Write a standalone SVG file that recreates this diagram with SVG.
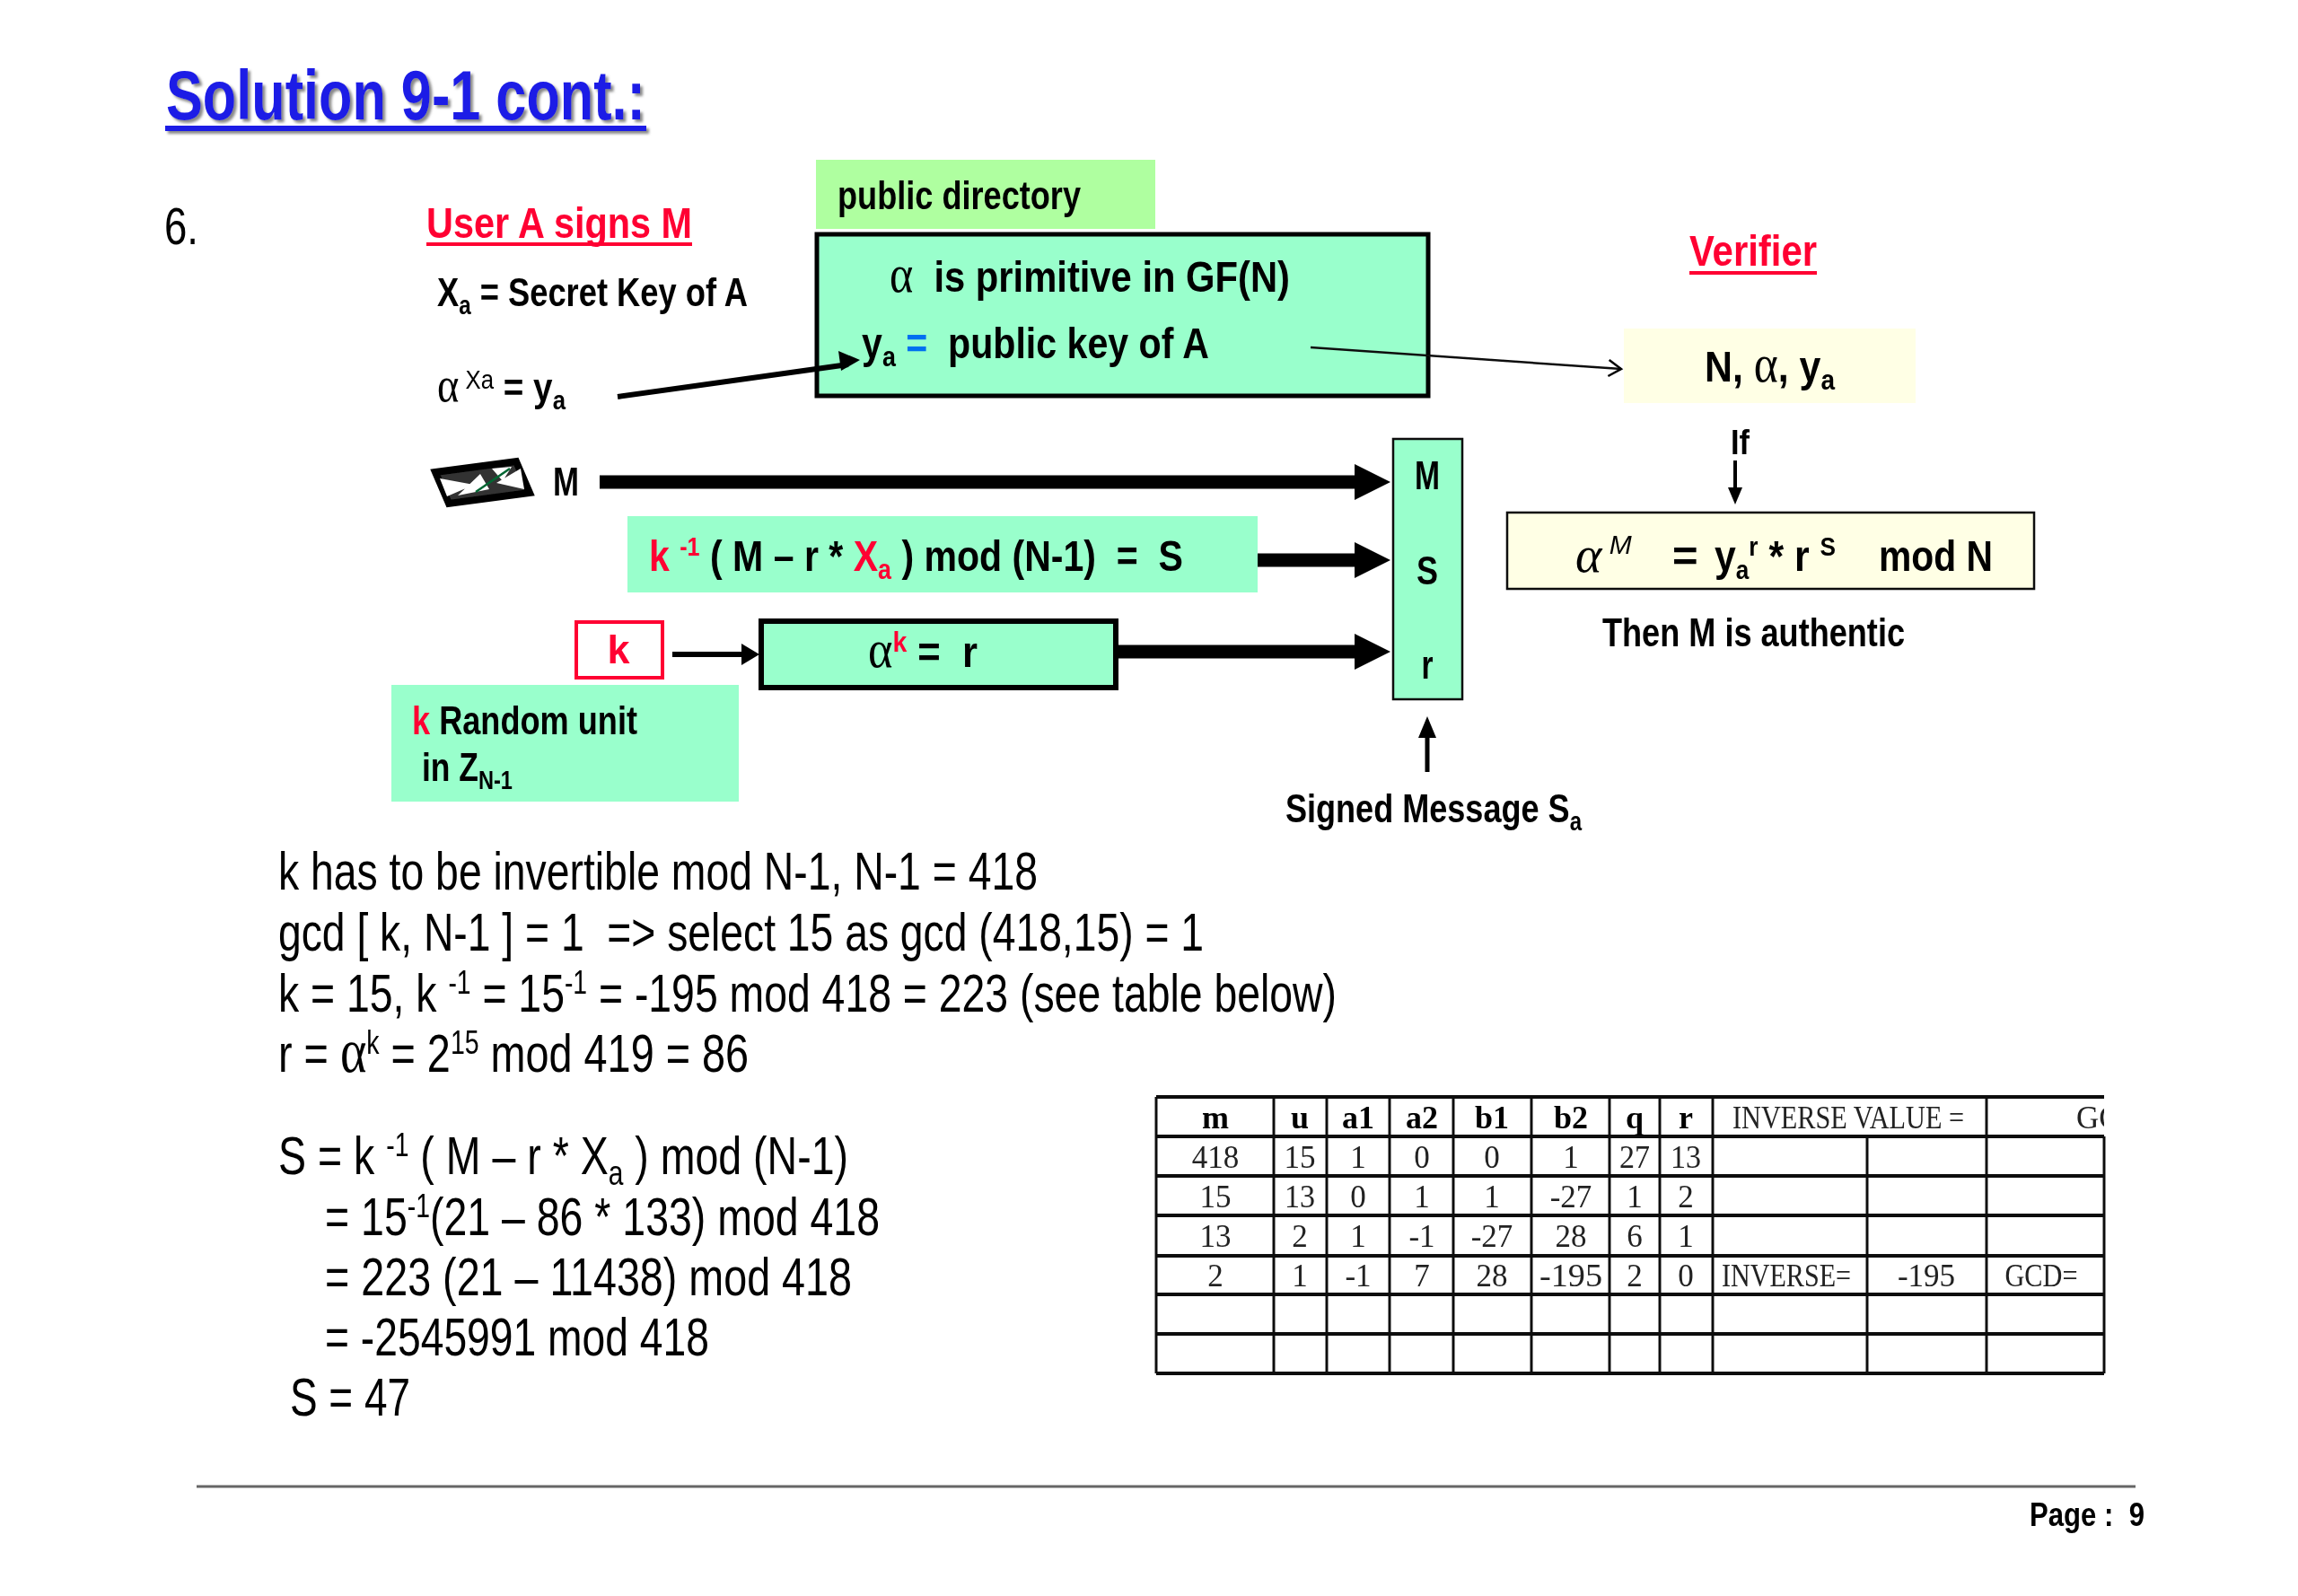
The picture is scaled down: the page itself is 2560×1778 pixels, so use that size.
<svg xmlns="http://www.w3.org/2000/svg" width="2560" height="1778" viewBox="0 0 2560 1778">
<style>
text{font-family:"Liberation Sans",Arial,sans-serif;fill:#000;white-space:pre}
.b{font-weight:bold}
.r{fill:#f03}
.l{font-size:59px}
.h{font-size:49px;font-weight:bold}
.m{font-size:45px;font-weight:bold}
.a{font-family:"Liberation Serif","Times New Roman",serif;font-weight:normal;font-size:1.2em}
.t{font-family:"Liberation Serif","Times New Roman",serif;font-size:35px;text-anchor:middle;fill:#222}
.th{font-weight:bold;fill:#000;font-size:36px}
.gr{fill:#9fc}
.c{fill:#ffffe5}
.rows{stroke:#111;stroke-width:4;fill:none}
.cols{stroke:#111;stroke-width:3;fill:none}
.thick{stroke:#000;stroke-width:15;fill:none}
.ah{fill:#000}
</style>
<defs>
<filter id="shadow" x="-5%" y="-20%" width="110%" height="140%"><feDropShadow dx="3" dy="3" stdDeviation="1.5" flood-color="#888"/></filter>
<filter id="soft" x="0" y="0" width="100%" height="100%"><feGaussianBlur stdDeviation="0.7"/></filter>
<clipPath id="tclip"><rect x="1280" y="1215" width="1064" height="320"/></clipPath>
<marker id="open" markerWidth="24" markerHeight="24" refX="20" refY="10" orient="auto" markerUnits="userSpaceOnUse"><path d="M6 1L20 10L6 19" fill="none" stroke="#000" stroke-width="2.5"/></marker>
</defs>
<rect width="2560" height="1778" fill="#fff"/>
<g filter="url(#soft)">
<g id="title" filter="url(#shadow)">
<text x="185" y="133" font-size="78" font-weight="bold" style="fill:#1a1ae6" textLength="534" lengthAdjust="spacingAndGlyphs">Solution 9-1 cont.:</text>
<rect x="184" y="140" width="536" height="6" fill="#1a1ae6"/>
</g>
<text id="num" x="183" y="272" font-size="58" textLength="38" lengthAdjust="spacingAndGlyphs">6.</text>
<g id="signer-head">
<text class="h r" x="475" y="265" textLength="296" lengthAdjust="spacingAndGlyphs">User A signs M</text>
<rect x="475" y="270" width="296" height="4" fill="#f03"/>
</g>
<text id="secret" class="m" x="487" y="341" textLength="346" lengthAdjust="spacingAndGlyphs">X<tspan font-size="30" dy="9">a</tspan><tspan dy="-9"> = Secret Key of A</tspan></text>
<text id="alpha-y" class="m" x="487" y="447" textLength="143" lengthAdjust="spacingAndGlyphs"><tspan class="a">α</tspan><tspan font-size="30" dy="-14" font-weight="normal"> Xa</tspan><tspan dy="14"> = y</tspan><tspan font-size="30" dy="9">a</tspan></text>

<g id="directory-label"><rect x="909" y="178" width="378" height="77" fill="#afffa0"/>
<text class="m" x="933" y="233" textLength="271" lengthAdjust="spacingAndGlyphs">public directory</text></g>
<g id="directory"><rect x="910" y="261" width="681" height="180" class="gr" stroke="#000" stroke-width="5"/>
<text class="h" x="991" y="325" textLength="446" lengthAdjust="spacingAndGlyphs"><tspan class="a">α</tspan>  is primitive in GF(N)</text>
<text class="h" x="960" y="399" textLength="387" lengthAdjust="spacingAndGlyphs">y<tspan font-size="32" dy="9">a</tspan><tspan dy="-9" style="fill:#0070f0"> =</tspan>  public key of A</text></g>

<g id="verifier-head"><text class="h r" x="1882" y="296" textLength="142" lengthAdjust="spacingAndGlyphs">Verifier</text>
<rect x="1882" y="302" width="142" height="4" fill="#f03"/></g>
<g id="params"><rect x="1809" y="366" width="325" height="83" class="c"/>
<text class="h" x="1899" y="425" textLength="145" lengthAdjust="spacingAndGlyphs">N, <tspan class="a">α</tspan>, y<tspan font-size="32" dy="9">a</tspan></text></g>
<text id="if" class="b" font-size="38" x="1928" y="506" textLength="21" lengthAdjust="spacingAndGlyphs">If</text>
<g id="check"><rect x="1679" y="571" width="587" height="85" class="c" stroke="#111" stroke-width="2.5"/>
<text class="h" x="1755" y="637" font-style="italic"><tspan font-family="Liberation Serif" font-size="56" font-weight="normal">α</tspan><tspan font-size="30" dy="-20" font-weight="normal"> M</tspan></text>
<text class="h" x="1863" y="636">=</text>
<text class="h" x="1910" y="636" textLength="135" lengthAdjust="spacingAndGlyphs">y<tspan font-size="30" dy="9">a</tspan><tspan font-size="30" dy="-26">r</tspan><tspan dy="17"> * r </tspan><tspan font-size="30" dy="-17">S</tspan></text>
<text class="h" x="2093" y="636" textLength="127" lengthAdjust="spacingAndGlyphs">mod N</text></g>
<text id="authentic" class="m" x="1785" y="720" textLength="337" lengthAdjust="spacingAndGlyphs">Then M is authentic</text>

<g id="envelope" fill="none" stroke="#000"><path d="M485 526L575 514L590 549L500 561Z" fill="#333" stroke-width="8"/><path d="M490 533L528 540L498 553ZM580 522L553 538L584 545ZM510 552L535 528L545 545ZM548 522L560 536L570 520Z" fill="#fff" stroke="none"/><path d="M530 548L568 522" stroke="#063" stroke-width="2.5"/></g>
<text id="m-label" class="m" x="616" y="552" textLength="29" lengthAdjust="spacingAndGlyphs">M</text>

<g id="sig-formula"><rect x="699" y="575" width="702" height="85" class="gr"/>
<text class="h" x="723" y="636" textLength="595" lengthAdjust="spacingAndGlyphs"><tspan class="r">k </tspan><tspan class="r" font-size="30" dy="-17">-1</tspan><tspan dy="17"> ( M – r * </tspan><tspan class="r">X</tspan><tspan class="r" font-size="32" dy="9">a</tspan><tspan dy="-9"> ) mod (N-1)  =  S</tspan></text></g>
<g id="k-box"><rect x="642" y="693" width="96" height="62" fill="#fff" stroke="#f03" stroke-width="4"/>
<text class="m r" x="689" y="739" text-anchor="middle">k</text></g>
<g id="r-box"><rect x="848" y="692" width="395" height="74" class="gr" stroke="#000" stroke-width="6"/>
<text class="h" x="967" y="743" textLength="122" lengthAdjust="spacingAndGlyphs"><tspan class="a">α</tspan><tspan class="r" font-size="32" dy="-17">k</tspan><tspan dy="17"> =  r</tspan></text></g>
<g id="k-note"><rect x="436" y="763" width="387" height="130" class="gr"/>
<text class="m" x="459" y="818" textLength="251" lengthAdjust="spacingAndGlyphs"><tspan class="r">k</tspan> Random unit</text>
<text class="m" x="470" y="870" textLength="101" lengthAdjust="spacingAndGlyphs">in Z<tspan font-size="30" dy="9">N-1</tspan></text></g>
<g id="msr"><rect x="1552" y="489" width="77" height="290" class="gr" stroke="#111" stroke-width="2.5"/>
<text class="m" x="1590" y="545" text-anchor="middle" textLength="28" lengthAdjust="spacingAndGlyphs">M</text>
<text class="m" x="1590" y="651" text-anchor="middle" textLength="24" lengthAdjust="spacingAndGlyphs">S</text>
<text class="m" x="1590" y="756" text-anchor="middle" textLength="13" lengthAdjust="spacingAndGlyphs">r</text></g>
<text id="signed" class="m" x="1432" y="916" textLength="330" lengthAdjust="spacingAndGlyphs">Signed Message S<tspan font-size="30" dy="9">a</tspan></text>

<g id="connectors">
<path d="M688 442L945 406" stroke="#000" stroke-width="6" fill="none"/><path d="M958 401L934 391L937 413Z" class="ah"/>
<path d="M1460 387L1806 411" stroke="#111" stroke-width="2.5" fill="none" marker-end="url(#open)"/>
<path d="M1933 513V545" stroke="#000" stroke-width="4" fill="none"/><path d="M1933 562L1925 543H1941Z" class="ah"/>
<path d="M668 537H1512" class="thick"/><path d="M1549 537L1509 517V557Z" class="ah"/>
<path d="M1401 624H1512" class="thick"/><path d="M1549 624L1509 604V644Z" class="ah"/>
<path d="M1244 726H1512" class="thick"/><path d="M1549 726L1509 706V746Z" class="ah"/>
<path d="M749 729H830" stroke="#000" stroke-width="6" fill="none"/><path d="M846 729L826 717V741Z" class="ah"/>
<path d="M1590 860V815" stroke="#000" stroke-width="5" fill="none"/><path d="M1590 798L1580 822H1600Z" class="ah"/>
</g>

<g id="working">
<text class="l" x="310" y="991" textLength="846" lengthAdjust="spacingAndGlyphs">k has to be invertible mod N-1, N-1 = 418</text>
<text class="l" x="310" y="1059" textLength="1031" lengthAdjust="spacingAndGlyphs">gcd [ k, N-1 ] = 1  =&gt; select 15 as gcd (418,15) = 1</text>
<text class="l" x="310" y="1127" textLength="1179" lengthAdjust="spacingAndGlyphs">k = 15, k <tspan font-size="36" dy="-20">-1</tspan><tspan dy="20"> = 15</tspan><tspan font-size="36" dy="-20">-1</tspan><tspan dy="20"> = -195 mod 418 = 223 (see table below)</tspan></text>
<text class="l" x="310" y="1194" textLength="524" lengthAdjust="spacingAndGlyphs">r = <tspan class="a">α</tspan><tspan font-size="36" dy="-20">k</tspan><tspan dy="20"> = 2</tspan><tspan font-size="36" dy="-20">15</tspan><tspan dy="20"> mod 419 = 86</tspan></text>
<text class="l" x="310" y="1308" textLength="635" lengthAdjust="spacingAndGlyphs">S = k <tspan font-size="36" dy="-20">-1</tspan><tspan dy="20"> ( M – r * X</tspan><tspan font-size="38" dy="12">a</tspan><tspan dy="-12"> ) mod (N-1)</tspan></text>
<text class="l" x="362" y="1376" textLength="618" lengthAdjust="spacingAndGlyphs">= 15<tspan font-size="36" dy="-20">-1</tspan><tspan dy="20">(21 – 86 * 133) mod 418</tspan></text>
<text class="l" x="362" y="1443" textLength="587" lengthAdjust="spacingAndGlyphs">= 223 (21 – 11438) mod 418</text>
<text class="l" x="362" y="1510" textLength="428" lengthAdjust="spacingAndGlyphs">= -2545991 mod 418</text>
<text class="l" x="323" y="1577" textLength="134" lengthAdjust="spacingAndGlyphs">S = 47</text>
</g>

<g id="table">
<path class="rows" d="M1288 1222H2344M1288 1266H2344M1288 1310H2344M1288 1354H2344M1288 1399H2344M1288 1442H2344M1288 1486H2344M1288 1530H2344"/>
<path class="cols" d="M1288 1222V1530M1419 1222V1530M1478 1222V1530M1548 1222V1530M1619 1222V1530M1706 1222V1530M1793 1222V1530M1849 1222V1530M1908 1222V1530M2080 1266V1530M2213 1222V1530M2344 1266V1530"/>
<g clip-path="url(#tclip)">
<text class="t th" x="1354" y="1257">m</text><text class="t th" x="1448" y="1257">u</text><text class="t th" x="1513" y="1257">a1</text><text class="t th" x="1584" y="1257">a2</text><text class="t th" x="1662" y="1257">b1</text><text class="t th" x="1750" y="1257">b2</text><text class="t th" x="1821" y="1257">q</text><text class="t th" x="1878" y="1257">r</text>
<text class="t" x="2059" y="1257" textLength="258" lengthAdjust="spacingAndGlyphs">INVERSE VALUE =</text><text class="t" x="2313" y="1257" style="text-anchor:start">GCD</text>
<text class="t" x="1354" y="1301">418</text><text class="t" x="1448" y="1301">15</text><text class="t" x="1513" y="1301">1</text><text class="t" x="1584" y="1301">0</text><text class="t" x="1662" y="1301">0</text><text class="t" x="1750" y="1301">1</text><text class="t" x="1821" y="1301" textLength="34" lengthAdjust="spacingAndGlyphs">27</text><text class="t" x="1878" y="1301" textLength="34" lengthAdjust="spacingAndGlyphs">13</text>
<text class="t" x="1354" y="1345">15</text><text class="t" x="1448" y="1345" textLength="34" lengthAdjust="spacingAndGlyphs">13</text><text class="t" x="1513" y="1345">0</text><text class="t" x="1584" y="1345">1</text><text class="t" x="1662" y="1345">1</text><text class="t" x="1750" y="1345">-27</text><text class="t" x="1821" y="1345">1</text><text class="t" x="1878" y="1345">2</text>
<text class="t" x="1354" y="1389">13</text><text class="t" x="1448" y="1389">2</text><text class="t" x="1513" y="1389">1</text><text class="t" x="1584" y="1389">-1</text><text class="t" x="1662" y="1389">-27</text><text class="t" x="1750" y="1389">28</text><text class="t" x="1821" y="1389">6</text><text class="t" x="1878" y="1389">1</text>
<text class="t" x="1354" y="1433">2</text><text class="t" x="1448" y="1433">1</text><text class="t" x="1513" y="1433">-1</text><text class="t" x="1584" y="1433">7</text><text class="t" x="1662" y="1433">28</text><text class="t" x="1750" y="1433" textLength="70" lengthAdjust="spacingAndGlyphs">-195</text><text class="t" x="1821" y="1433">2</text><text class="t" x="1878" y="1433">0</text>
<text class="t" x="1990" y="1433" textLength="144" lengthAdjust="spacingAndGlyphs">INVERSE=</text><text class="t" x="2146" y="1433">-195</text><text class="t" x="2274" y="1433" textLength="81" lengthAdjust="spacingAndGlyphs">GCD=</text>
</g>
</g>

<g id="footer"><path d="M219 1656H2379" stroke="#666" stroke-width="3" fill="none"/>
<text class="b" font-size="36" x="2261" y="1700" textLength="128" lengthAdjust="spacingAndGlyphs">Page :  9</text></g>
</g>
</svg>
